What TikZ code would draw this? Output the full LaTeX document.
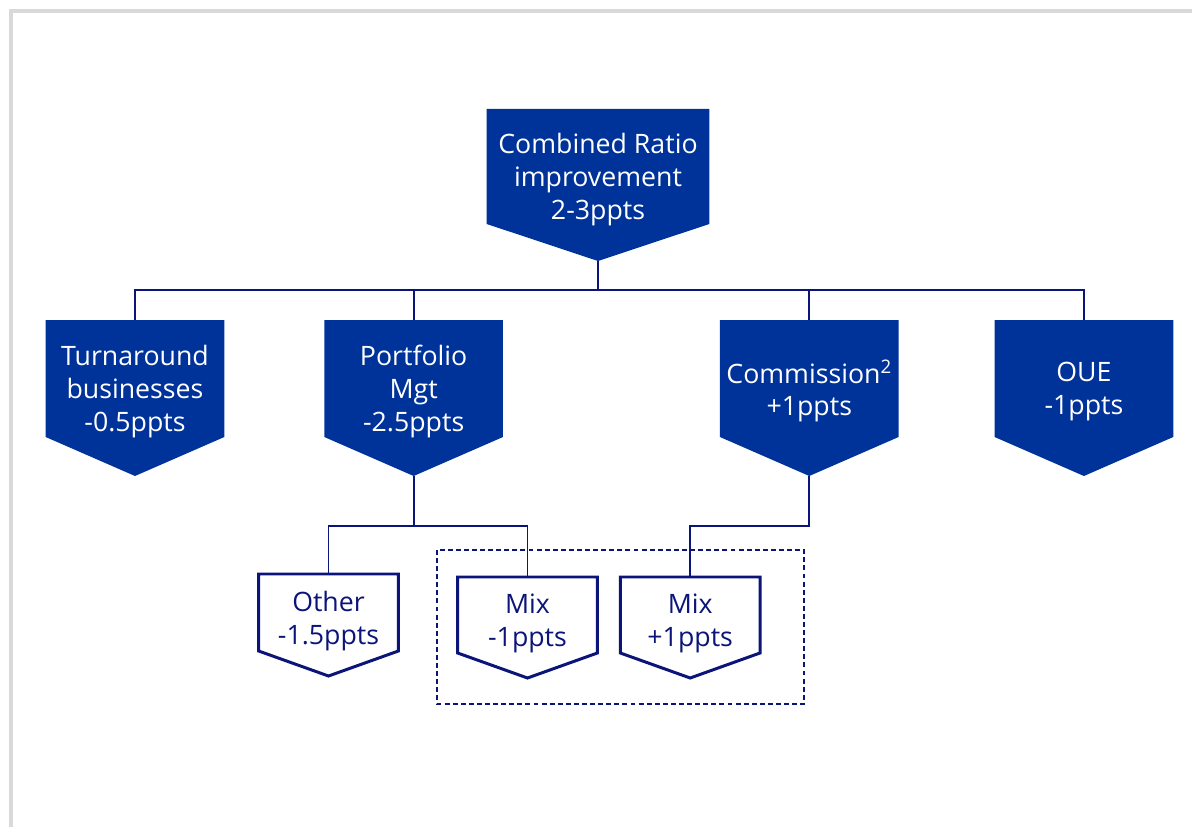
\documentclass[tikz,border=0pt]{standalone}
\usepackage{fontspec}
\setmainfont{Open Sans}
\usetikzlibrary{positioning,calc,backgrounds}
\definecolor{crblue}{HTML}{003399}
\definecolor{crnavy}{HTML}{0B1478}
\definecolor{crgray}{HTML}{D9D9D9}

\begin{document}
\begin{tikzpicture}[x=0.02cm,y=0.02cm,font=\fontsize{15.2}{18.7}\selectfont]
  \tikzstyle{bluebox}=[align=center,text=white,inner sep=0pt,minimum width=3.56cm,minimum height=2.84cm]
  \tikzstyle{whitebox}=[align=center,text=crnavy,inner sep=0pt,minimum width=2.78cm,minimum height=1.84cm]
  \tikzstyle{link}=[draw=crnavy,line width=1.1pt]
  \useasboundingbox (0,0) rectangle (1192,-827);
  % page frame
  \draw[crgray,line width=0.08cm] (11,-827) -- (11,-11) -- (1192,-11);
  % top node
  \node[bluebox,minimum width=4.44cm,minimum height=2.82cm,anchor=north] (cr) at (598,-109) {Combined Ratio\\improvement\\2-3ppts};
  % second row
  \node[bluebox,anchor=north] (ta) at (135,-320) {Turnaround\\businesses\\-0.5ppts};
  \node[bluebox,right=2cm of ta] (pm) {Portfolio\\Mgt\\-2.5ppts};
  \node[bluebox,right=4.34cm of pm] (co) {Commission\textsuperscript{2}\\+1ppts};
  \node[bluebox,right=1.92cm of co] (oue) {OUE\\-1ppts};
  % third row
  \node[whitebox,minimum height=1.86cm,anchor=north] (ot) at (328.5,-574) {Other\\-1.5ppts};
  \node[whitebox,anchor=north] (mxa) at (527.5,-577) {Mix\\-1ppts};
  \node[whitebox,right=0.46cm of mxa] (mxb) {Mix\\+1ppts};
  % arrow shapes behind the text
  \begin{scope}[on background layer]
    \foreach \n/\s/\t in {cr/115/152,ta/117/156,pm/117/156,co/117/156,oue/117/156}
      \fill[crblue] (\n.north west) -- (\n.north east) -- ($(\n.north east)+(0,-\s)$)
        -- ($(\n.north)+(0,-\t)$) coordinate (\n-tip) -- ($(\n.north west)+(0,-\s)$) -- cycle;
  \end{scope}
  \foreach \n/\s/\t in {ot/77/102,mxa/76/101,mxb/76/101}
    \draw[crnavy,line width=1.7pt] (\n.north west) -- (\n.north east) -- ($(\n.north east)+(0,-\s)$)
      -- ($(\n.north)+(0,-\t)$) coordinate (\n-tip) -- ($(\n.north west)+(0,-\s)$) -- cycle;
  % connectors
  \coordinate (bus) at (0,-290);
  \coordinate (subbus) at (0,-526);
  \foreach \n in {ta,pm,co,oue}
    \draw[link] (cr-tip) |- (bus -| \n.north) -- (\n.north);
  \foreach \n in {ot,mxa}
    \draw[link] (pm-tip) |- (subbus -| \n.north) -- (\n.north);
  \draw[link] (co-tip) |- (subbus -| mxb.north) -- (mxb.north);
  % mix group
  \draw[crnavy,line width=1.1pt,dash pattern=on 2.8pt off 1.8pt] (437,-550) rectangle (804,-704);
\end{tikzpicture}
\end{document}
